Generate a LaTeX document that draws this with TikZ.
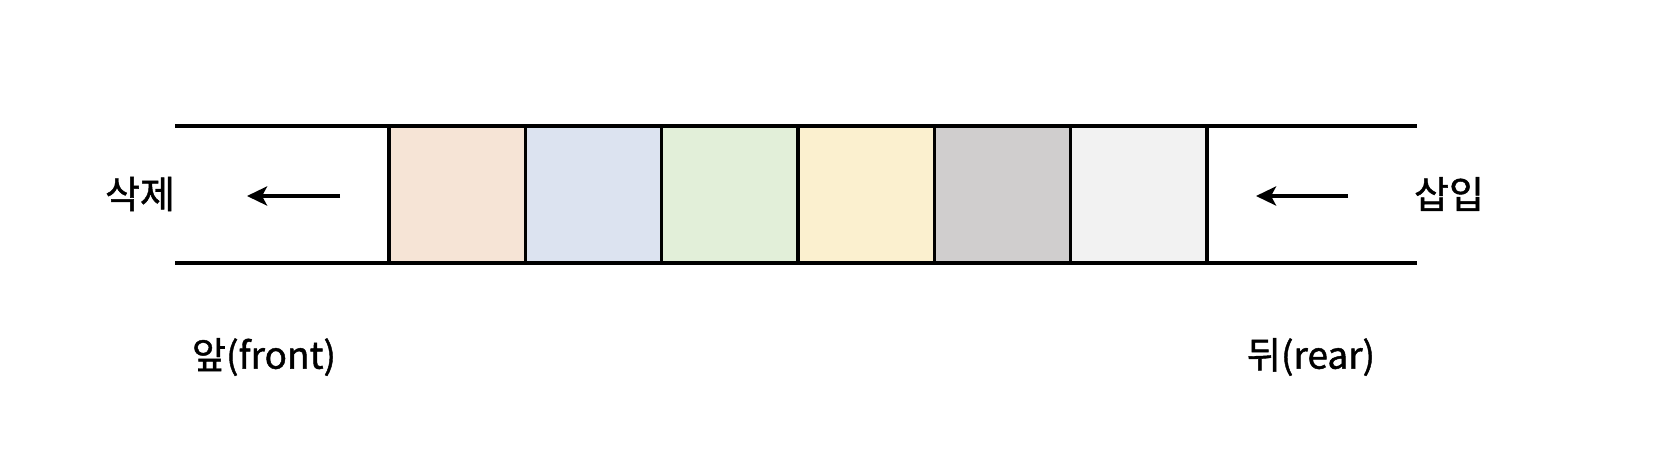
\documentclass[tikz,border=0pt]{standalone}
\usepackage{fontspec}
\setmainfont{Noto Sans CJK KR}[FakeBold=1.2]
\usetikzlibrary{positioning, arrows.meta}

\definecolor{cellA}{HTML}{F6E4D6}
\definecolor{cellB}{HTML}{DCE3F0}
\definecolor{cellC}{HTML}{E2EFD9}
\definecolor{cellD}{HTML}{FBF0CF}
\definecolor{cellE}{HTML}{D0CECE}
\definecolor{cellF}{HTML}{F2F2F2}

\begin{document}
\begin{tikzpicture}[
    x=1pt, y=-1pt,
    node distance=0pt,
    cell/.style={draw, line width=3.4pt, outer sep=0pt,
                 minimum width=136.3pt, minimum height=137pt},
    rail/.style={line width=3.4pt},
    arrow/.style={-{Stealth[length=20pt, width=19pt, inset=5pt]}, line width=4.5pt},
    action/.style={font=\fontsize{38}{42}\selectfont},
    endtag/.style={font=\fontsize{37}{42}\selectfont}
]
\useasboundingbox (0,0) rectangle (1654,456);
% Queue cells
\node[cell, fill=cellA] (c1) at (457.15,194.5) {};
\node[cell, fill=cellB, right=of c1] (c2) {};
\node[cell, fill=cellC, right=of c2] (c3) {};
\node[cell, fill=cellD, right=of c3] (c4) {};
\node[cell, fill=cellE, right=of c4] (c5) {};
\node[cell, fill=cellF, right=of c5] (c6) {};
% Rails
\coordinate (railTL) at (175,126);
\coordinate (railTR) at (1417,126);
\coordinate (railBL) at (175,263);
\coordinate (railBR) at (1417,263);
\draw[rail] (railTL) -- (railTR);
\draw[rail] (railBL) -- (railBR);
% Left — delete
\node[action] (del) at (140,194) {삭제};
\coordinate (delFrom) at (340,196);
\coordinate (delTo) at (247,196);
\draw[arrow] (delFrom) -- (delTo);
% Right — insert
\node[action] (ins) at (1449,194) {삽입};
\coordinate (insFrom) at (1348,196);
\coordinate (insTo) at (1256,196);
\draw[arrow] (insFrom) -- (insTo);
% Ends
\node[endtag] (front) at (264,357) {앞(front)};
\node[endtag] (rear) at (1311,357) {뒤(rear)};
\end{tikzpicture}
\end{document}
